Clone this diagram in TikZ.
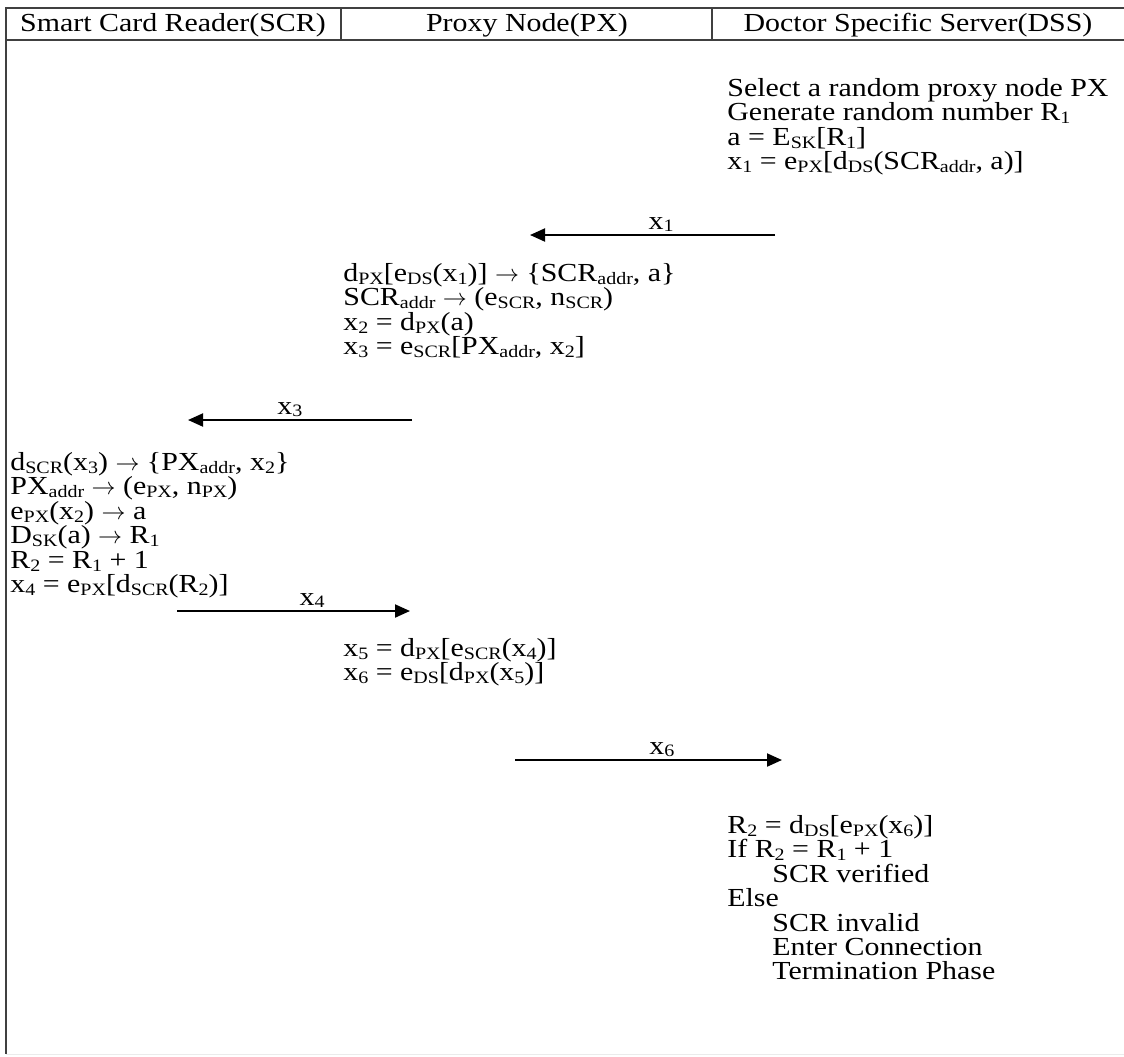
\documentclass[tikz,border=0pt]{standalone}
\usepackage{fontspec}
\setmainfont{Liberation Serif}[FakeStretch=1.15]
\usepackage{tikz}
\usetikzlibrary{arrows.meta,positioning}
\newcommand{\sbs}[1]{\raisebox{-0.25ex}{\fontsize{8.7}{8.7}\selectfont #1}}
\AtBeginDocument{\lineskiplimit=-20pt\relax}
\tikzset{
  frame/.style={
    line width=1pt,
    draw=black!75
  },
  head/.style={
    inner sep=0,
    anchor=center
  },
  steps/.style={
    inner sep=0,
    anchor=north west,
    align=left
  },
  msg/.style={
    line width=1pt,
    -{Triangle[length=7.5pt,width=6.5pt]}
  },
  msglabel/.style={
    inner sep=0,
    anchor=base,
    yshift=3pt
  },
  every picture/.style={
    font=\fontsize{13}{12.2}\selectfont
  }
}

\begin{document}
\begin{tikzpicture}[x=0.5pt,y=-0.5pt]
  \useasboundingbox (0,0) rectangle (1124,1056);
  % table frame
  \draw[frame] (1124,8) -- (6,8) -- (6,1054);
  \draw[frame] (6,40) -- (1124,40);
  \draw[frame] (341,8) -- (341,40);
  \draw[frame] (712,8) -- (712,40);
  \draw[black!8] (6,1054) -- (1124,1054);
  \node[head] (scr) at (173,25) {Smart Card Reader(SCR)};
  \node[head] (px) at (527,25) {Proxy Node(PX)};
  \node[head] (dss) at (918,25) {Doctor Specific Server(DSS)};

  % DSS starts
  \node[steps] (dssA) at (727,78) {Select a random proxy node PX\\
    Generate random number R\sbs{1}\\
    a = E\sbs{SK}[R\sbs{1}]\\
    x\sbs{1} = e\sbs{PX}[d\sbs{DS}(SCR\sbs{addr}, a)]};
  \coordinate (m1s) at (775,235);
  \coordinate (m1e) at (530,235);
  \draw[msg] (m1s) -- node[msglabel,pos=0.465] (l1) {x\sbs{1}} (m1e);

  % proxy node
  \node[steps] (pxA) at (343,263) {d\sbs{PX}[e\sbs{DS}(x\sbs{1})] $\rightarrow$ \{SCR\sbs{addr}, a\}\\
    SCR\sbs{addr} $\rightarrow$ (e\sbs{SCR}, n\sbs{SCR})\\
    x\sbs{2} = d\sbs{PX}(a)\\
    x\sbs{3} = e\sbs{SCR}[PX\sbs{addr}, x\sbs{2}]};
  \coordinate (m3s) at (412,420);
  \coordinate (m3e) at (188,420);
  \draw[msg] (m3s) -- node[msglabel,pos=0.545] (l3) {x\sbs{3}} (m3e);

  % smart card reader
  \node[steps] (scrA) at (10,452) {d\sbs{SCR}(x\sbs{3}) $\rightarrow$ \{PX\sbs{addr}, x\sbs{2}\}\\
    PX\sbs{addr} $\rightarrow$ (e\sbs{PX}, n\sbs{PX})\\
    e\sbs{PX}(x\sbs{2}) $\rightarrow$ a\\
    D\sbs{SK}(a) $\rightarrow$ R\sbs{1}\\
    R\sbs{2} = R\sbs{1} + 1\\
    x\sbs{4} = e\sbs{PX}[d\sbs{SCR}(R\sbs{2})]};
  \coordinate (m4s) at (177,611);
  \coordinate (m4e) at (410,611);
  \draw[msg] (m4s) -- node[msglabel,pos=0.58] (l4) {x\sbs{4}} (m4e);

  \node[steps] (pxB) at (343,638) {x\sbs{5} = d\sbs{PX}[e\sbs{SCR}(x\sbs{4})]\\
    x\sbs{6} = e\sbs{DS}[d\sbs{PX}(x\sbs{5})]};
  \coordinate (m6s) at (515,760);
  \coordinate (m6e) at (782,760);
  \draw[msg] (m6s) -- node[msglabel,pos=0.55] (l6) {x\sbs{6}} (m6e);

  % verification at DSS
  \node[steps] (dssB) at (727,815) {R\sbs{2} = d\sbs{DS}[e\sbs{PX}(x\sbs{6})]\\
    If R\sbs{2} = R\sbs{1} + 1\\
    \hspace*{22.5pt}SCR verified\\
    Else\\
    \hspace*{22.5pt}SCR invalid\\
    \hspace*{22.5pt}Enter Connection\\
    \hspace*{22.5pt}Termination Phase};
\end{tikzpicture}
\end{document}
